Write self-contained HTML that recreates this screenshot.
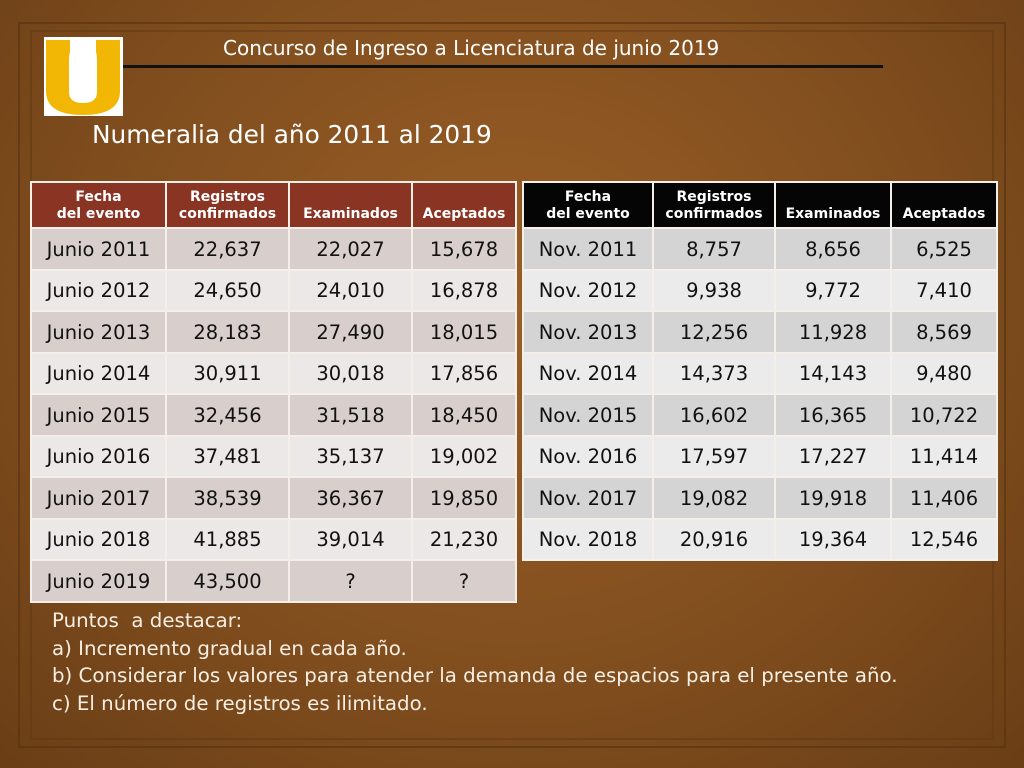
<!DOCTYPE html>
<html><head><meta charset="utf-8"><style>
*{margin:0;padding:0;box-sizing:border-box}
body{width:1024px;height:768px;overflow:hidden;font-family:"DejaVu Sans",sans-serif;position:relative;
background:radial-gradient(ellipse at 50% 40%,#9a5e26 0%,#84501f 50%,#6a3e16 100%);}
.frame{position:absolute;border:2px solid #5a3412;opacity:.7}
.abs{position:absolute}
table{position:absolute;border-collapse:collapse;table-layout:fixed}
td,th{border:2px solid #f4efe9;text-align:center;color:#111;font-size:19.5px;font-weight:normal;white-space:nowrap}
th{font-size:14px;font-weight:bold;color:#fff;vertical-align:bottom;padding-bottom:4px;line-height:17px}
#t1 th{background:#8a3424}
#t2 th{background:#050505}
#t1 tr:nth-child(even) td{background:#d8cfcd}
#t1 tr:nth-child(odd) td{background:#ece8e7}
#t2 tr:nth-child(even) td{background:#d4d4d4}
#t2 tr:nth-child(odd) td{background:#ebebeb}
.notes{left:52px;top:607px;color:#f7efe3;font-size:19.8px;line-height:27.5px}
</style></head><body>
<div class="frame" style="left:18px;top:22px;width:988px;height:726px"></div>
<div class="frame" style="left:30px;top:30px;width:964px;height:710px;opacity:.4"></div>
<div class="abs" style="left:44px;top:37px;width:79px;height:79px;background:#fff">
<svg width="79" height="79" viewBox="0 0 79 79"><path d="M2 3 H26 V50 Q26 66 39 66 Q52 66 52 50 V3 H76 V54 Q76 78 39 78 Q2 78 2 54Z" fill="#f2b705"/><path d="M34 0 H44 V6 Q53 10 53 22 V55 Q53 66 39 66 Q25 66 25 55 V22 Q25 10 34 6Z" fill="#fff"/></svg></div>
<div class="abs" style="left:223px;top:36px;color:#fff;font-size:20px">Concurso de Ingreso a Licenciatura de junio 2019</div>
<div class="abs" style="left:123px;top:65px;width:760px;height:3px;background:#111"></div>
<div class="abs" style="left:92px;top:120px;color:#fff;font-size:24.8px">Numeralia del año 2011 al 2019</div>

<table id="t1" style="left:30px;top:181px;width:485px">
<colgroup><col style="width:135px"><col style="width:123px"><col style="width:123px"><col style="width:104px"></colgroup>
<tr style="height:46px"><th>Fecha<br>del evento</th><th>Registros<br>confirmados</th><th>Examinados</th><th>Aceptados</th></tr>
<tr style="height:42px"><td>Junio 2011</td><td>22,637</td><td>22,027</td><td>15,678</td></tr>
<tr style="height:41px"><td>Junio 2012</td><td>24,650</td><td>24,010</td><td>16,878</td></tr>
<tr style="height:42px"><td>Junio 2013</td><td>28,183</td><td>27,490</td><td>18,015</td></tr>
<tr style="height:41px"><td>Junio 2014</td><td>30,911</td><td>30,018</td><td>17,856</td></tr>
<tr style="height:42px"><td>Junio 2015</td><td>32,456</td><td>31,518</td><td>18,450</td></tr>
<tr style="height:41px"><td>Junio 2016</td><td>37,481</td><td>35,137</td><td>19,002</td></tr>
<tr style="height:42px"><td>Junio 2017</td><td>38,539</td><td>36,367</td><td>19,850</td></tr>
<tr style="height:41px"><td>Junio 2018</td><td>41,885</td><td>39,014</td><td>21,230</td></tr>
<tr style="height:42px"><td>Junio 2019</td><td>43,500</td><td>?</td><td>?</td></tr>
</table>

<table id="t2" style="left:522px;top:181px;width:474px">
<colgroup><col style="width:130px"><col style="width:122px"><col style="width:116px"><col style="width:106px"></colgroup>
<tr style="height:46px"><th>Fecha<br>del evento</th><th>Registros<br>confirmados</th><th>Examinados</th><th>Aceptados</th></tr>
<tr style="height:42px"><td>Nov. 2011</td><td>8,757</td><td>8,656</td><td>6,525</td></tr>
<tr style="height:41px"><td>Nov. 2012</td><td>9,938</td><td>9,772</td><td>7,410</td></tr>
<tr style="height:42px"><td>Nov. 2013</td><td>12,256</td><td>11,928</td><td>8,569</td></tr>
<tr style="height:41px"><td>Nov. 2014</td><td>14,373</td><td>14,143</td><td>9,480</td></tr>
<tr style="height:42px"><td>Nov. 2015</td><td>16,602</td><td>16,365</td><td>10,722</td></tr>
<tr style="height:41px"><td>Nov. 2016</td><td>17,597</td><td>17,227</td><td>11,414</td></tr>
<tr style="height:42px"><td>Nov. 2017</td><td>19,082</td><td>19,918</td><td>11,406</td></tr>
<tr style="height:41px"><td>Nov. 2018</td><td>20,916</td><td>19,364</td><td>12,546</td></tr>
</table>

<div class="abs notes">
<div>Puntos&nbsp; a destacar:</div>
<div>a) Incremento gradual en cada año.</div>
<div>b) Considerar los valores para atender la demanda de espacios para el presente año.</div>
<div>c) El número de registros es ilimitado.</div>
</div>
</body></html>
